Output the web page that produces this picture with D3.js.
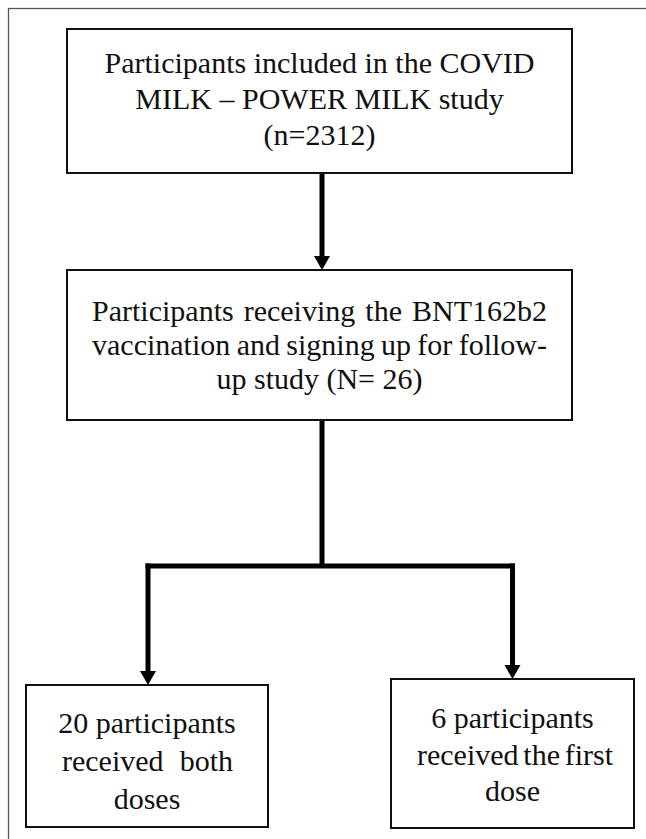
<!DOCTYPE html>
<html>
<head>
<meta charset="utf-8">
<script src="https://cdn.jsdelivr.net/npm/d3@7"></script>
<style>
  html, body { margin: 0; padding: 0; background: #fff; }
  svg { display: block; }
</style>
</head>
<body>
<div id="chart"></div>
<script>
// box texts, one array per box (one entry per line)
const box1Lines = ["Participants included in the COVID", "MILK \u2013 POWER MILK study", "(n=2312)"];
const box2Lines = ["Participants receiving the BNT162b2", "vaccination and signing up for follow-", "up study (N= 26)"];
const box3Lines = ["20 participants", "received both", "doses"];
const box4Lines = ["6 participants", "received the first", "dose"];

// which lines are set justified (the rest are centred)
const box1Justify = [false, false, false];
const box2Justify = [true, true, false];
const box3Justify = [false, true, false];
const box4Justify = [false, true, false];

const W = 646, H = 839;
const FONT = "'Liberation Serif', 'Times New Roman', serif";
const FS = 30;

const svg = d3.select("#chart").append("svg")
  .attr("width", W).attr("height", H);

// outer frame (only top and left edges fall inside the picture)
svg.append("rect")
  .attr("x", 8.5).attr("y", 8.5)
  .attr("width", 660).attr("height", 860)
  .attr("fill", "none").attr("stroke", "#555").attr("stroke-width", 1.3);

// layout scales: column -> centre x, row -> top y
const x = d3.scaleOrdinal().domain(["mid", "left", "right"]).range([319.5, 147, 512.5]);
const y = d3.scaleOrdinal().domain(["r0", "r1", "r2a", "r2b"]).range([29, 270, 685, 679]);

const boxes = [
  { lines: box1Lines, justify: box1Justify, col: "mid",   row: "r0",  w: 505, h: 144, lh: 36,   off: 8,  pad: [0, 0] },
  { lines: box2Lines, justify: box2Justify, col: "mid",   row: "r1",  w: 505, h: 150, lh: 34,   off: 10, pad: [25, 25] },
  { lines: box3Lines, justify: box3Justify, col: "left",  row: "r2a", w: 242, h: 142, lh: 38,   off: 15, pad: [36, 35] },
  { lines: box4Lines, justify: box4Justify, col: "right", row: "r2b", w: 243, h: 149, lh: 36.5, off: 11, pad: [26, 21] }
];

boxes.forEach(b => {
  b.cx = x(b.col);
  b.x0 = b.cx - b.w / 2;
  b.y0 = y(b.row);
  b.y1 = b.y0 + b.h;
});

// connectors
const stemX = 322;
const barY = 566;
const lineW = 5;
const headW = 16, headH = 14;
const g = svg.append("g");

function arrowHead(px, tipY) {
  g.append("path")
    .attr("d", `M${px - headW / 2},${tipY - headH} L${px + headW / 2},${tipY - headH} L${px},${tipY} Z`)
    .attr("fill", "#000");
}

// box1 -> box2
g.append("line")
  .attr("x1", stemX).attr("x2", stemX)
  .attr("y1", boxes[0].y1).attr("y2", boxes[1].y0 - headH + 2)
  .attr("stroke", "#000").attr("stroke-width", lineW);
arrowHead(stemX, boxes[1].y0);

// box2 -> branch bar
g.append("line")
  .attr("x1", stemX).attr("x2", stemX)
  .attr("y1", boxes[1].y1).attr("y2", barY)
  .attr("stroke", "#000").attr("stroke-width", lineW);

g.append("line")
  .attr("x1", boxes[2].cx + 1 - lineW / 2).attr("x2", boxes[3].cx + lineW / 2)
  .attr("y1", barY).attr("y2", barY)
  .attr("stroke", "#000").attr("stroke-width", lineW);

[[boxes[2], 1], [boxes[3], 0]].forEach(([b, dx]) => {
  const px = b.cx + dx;
  g.append("line")
    .attr("x1", px).attr("x2", px)
    .attr("y1", barY - lineW / 2).attr("y2", b.y0 - headH + 2)
    .attr("stroke", "#000").attr("stroke-width", lineW);
  arrowHead(px, b.y0);
});

// boxes with text
boxes.forEach(b => {
  const bg = svg.append("g");
  bg.append("rect")
    .attr("x", b.x0).attr("y", b.y0)
    .attr("width", b.w).attr("height", b.h)
    .attr("fill", "#fff").attr("stroke", "#111").attr("stroke-width", 2);

  const n = b.lines.length;
  const midY = b.y0 + b.h / 2;
  b.lines.forEach((line, i) => {
    const ly = midY + (i - (n - 1) / 2) * b.lh + b.off;
    if (!b.justify[i]) {
      bg.append("text")
        .attr("x", b.cx).attr("y", ly)
        .attr("text-anchor", "middle")
        .attr("font-family", FONT).attr("font-size", FS).attr("fill", "#111")
        .text(line);
    } else {
      // justified: spread the words over the inner width
      const words = line.split(" ");
      const left = b.x0 + b.pad[0], right = b.x0 + b.w - b.pad[1];
      const tmp = bg.append("text").attr("font-family", FONT).attr("font-size", FS);
      const widths = words.map(w => { tmp.text(w); return tmp.node().getComputedTextLength(); });
      tmp.remove();
      const gap = (right - left - d3.sum(widths)) / (words.length - 1);
      let cur = left;
      words.forEach((w, k) => {
        bg.append("text")
          .attr("x", cur).attr("y", ly)
          .attr("font-family", FONT).attr("font-size", FS).attr("fill", "#111")
          .text(w);
        cur += widths[k] + gap;
      });
    }
  });
});
</script>
</body>
</html>
